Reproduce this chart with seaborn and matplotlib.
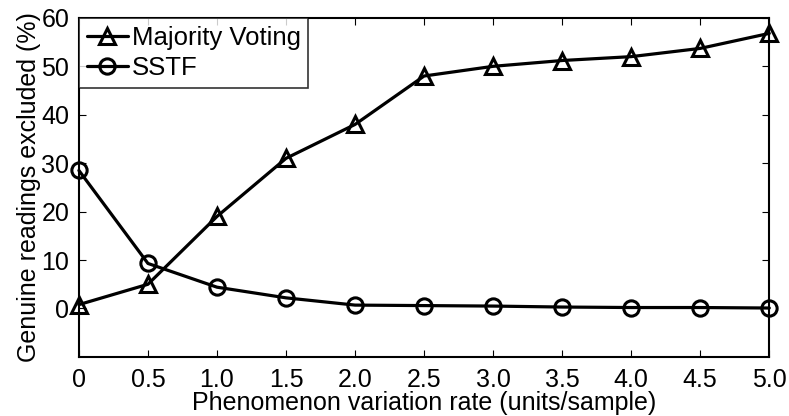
import matplotlib
matplotlib.use("Agg")
import matplotlib.pyplot as plt
import seaborn as sns
import pandas as pd

rates = [0, 0.5, 1.0, 1.5, 2.0, 2.5, 3.0, 3.5, 4.0, 4.5, 5.0]
majority_voting = [0.8, 5.0, 19.0, 31.0, 38.0, 48.0, 50.0, 51.2, 52.0, 53.7, 56.8]
sstf = [28.5, 9.3, 4.4, 2.2, 0.7, 0.6, 0.5, 0.3, 0.2, 0.2, 0.1]
x_ticks = [0, 0.5, 1.0, 1.5, 2.0, 2.5, 3.0, 3.5, 4.0, 4.5, 5.0]
x_tick_labels = ["0", "0.5", "1.0", "1.5", "2.0", "2.5", "3.0", "3.5", "4.0", "4.5", "5.0"]
y_ticks = [0, 10, 20, 30, 40, 50, 60]

sns.set_theme(style="white")
plt.rcParams['font.family'] = ['Liberation Sans', 'DejaVu Sans']

df = pd.DataFrame({
    "rate": rates * 2,
    "value": majority_voting + sstf,
    "series": ["Majority Voting"] * len(rates) + ["SSTF"] * len(rates),
})

fig = plt.figure(figsize=(7.89, 4.16), dpi=100)
ax = fig.add_axes([0.100, 0.142, 0.875, 0.815])

sns.lineplot(data=df, x="rate", y="value", style="series",
             markers={"Majority Voting": "^", "SSTF": "o"},
             dashes=False, color="black", linewidth=2.3,
             markersize=11, markerfacecolor="none", markeredgecolor="black",
             markeredgewidth=2.2, ax=ax, clip_on=False)

ax.set_xlim(0, 5.0)
ax.set_ylim(-10, 60)
ax.set_xticks(x_ticks)
ax.set_xticklabels(x_tick_labels)
ax.set_yticks(y_ticks)
ax.tick_params(axis="both", direction="in", length=5, width=0.8, labelsize=18,
               labelcolor="black", color="black",
               top=True, right=True, bottom=True, left=True, pad=8)
ax.tick_params(axis="y", pad=7)
for s in ax.spines.values():
    s.set_color("black")
    s.set_linewidth(1.5)
ax.set_xlabel("Phenomenon variation rate (units/sample)", fontsize=18, labelpad=-1,
              color="black")
ax.set_ylabel("Genuine readings excluded (%)", fontsize=18, labelpad=0,
              color="black")

handles, labels = ax.get_legend_handles_labels()
leg = ax.legend(handles, labels, loc="upper left", fontsize=18.5, frameon=True,
                fancybox=False, borderaxespad=0, handlelength=1.6,
                handletextpad=0.15, borderpad=0.3, labelspacing=0.25)
leg.get_frame().set_edgecolor("black")
leg.get_frame().set_linewidth(1.2)
for t in leg.get_texts():
    t.set_color("black")
for h in leg.legend_handles:
    h.set_markerfacecolor("none")
    h.set_markeredgecolor("black")
    h.set_color("black")
    h.set_linewidth(2.3)
    h.set_markeredgewidth(2.2)

fig.savefig("out.png", dpi=100)
